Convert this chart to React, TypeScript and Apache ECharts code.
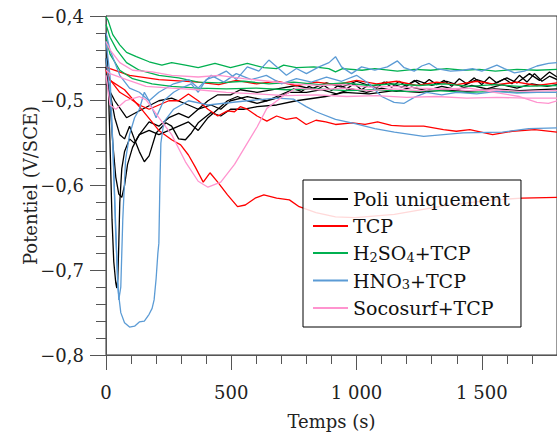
import React, { useEffect, useRef } from "react";
import * as echarts from "echarts";

const FONT = "DejaVu Serif";

const seriesNames = ["Poli uniquement", "TCP", "H2SO4+TCP", "HNO3+TCP", "Socosurf+TCP"];
const seriesColors = ["#000000", "#ff0000", "#00b050", "#5b9bd5", "#ff94cf"];

const yTicks = [-0.8, -0.7, -0.6, -0.5, -0.4];
const xTicks = [0, 500, 1000, 1500];

// Poli uniquement
const poli1 = [[0,-0.42],[8,-0.47],[16,-0.55],[24,-0.64],[31,-0.69],[39,-0.715],[43,-0.721],[47,-0.71],[51,-0.67],[55,-0.62],[63,-0.58],[74,-0.56],[94,-0.545],[113,-0.55],[133,-0.54],[172,-0.525],[211,-0.53],[251,-0.52],[290,-0.515],[329,-0.52],[368,-0.51],[419,-0.505],[458,-0.51],[497,-0.5],[564,-0.495],[642,-0.5],[720,-0.49],[750,-0.486],[780,-0.489],[810,-0.483],[840,-0.487],[870,-0.482],[900,-0.488],[930,-0.481],[960,-0.486],[990,-0.48],[1020,-0.487],[1050,-0.481],[1080,-0.485],[1110,-0.478],[1140,-0.484],[1170,-0.477],[1200,-0.483],[1230,-0.476],[1260,-0.482],[1290,-0.475],[1320,-0.481],[1350,-0.476],[1380,-0.483],[1410,-0.474],[1440,-0.48],[1470,-0.473],[1500,-0.481],[1530,-0.472],[1560,-0.479],[1590,-0.474],[1620,-0.48],[1650,-0.47],[1680,-0.478],[1710,-0.468],[1740,-0.477],[1770,-0.471],[1800,-0.475]];
const poli2 = [[0,-0.45],[16,-0.5],[27,-0.55],[39,-0.59],[51,-0.61],[63,-0.614],[74,-0.6],[86,-0.575],[106,-0.555],[133,-0.54],[172,-0.535],[211,-0.54],[251,-0.535],[290,-0.53],[329,-0.525],[368,-0.535],[407,-0.52],[446,-0.51],[485,-0.5],[525,-0.495],[564,-0.5],[603,-0.503],[642,-0.5],[681,-0.497],[732,-0.49],[800,-0.49],[860,-0.487],[920,-0.492],[980,-0.486],[1040,-0.49],[1100,-0.485],[1160,-0.489],[1220,-0.484],[1280,-0.488],[1340,-0.483],[1400,-0.487],[1460,-0.482],[1520,-0.486],[1580,-0.481],[1640,-0.485],[1700,-0.48],[1760,-0.483],[1800,-0.481]];
const poli3 = [[0,-0.46],[16,-0.49],[35,-0.52],[55,-0.54],[74,-0.545],[94,-0.53],[113,-0.545],[133,-0.56],[153,-0.572],[172,-0.565],[200,-0.538],[239,-0.526],[262,-0.53],[290,-0.545],[317,-0.546],[341,-0.538],[368,-0.526],[419,-0.514],[458,-0.518],[497,-0.51],[552,-0.51],[603,-0.507],[681,-0.505],[760,-0.5],[877,-0.495],[950,-0.49],[1050,-0.492],[1150,-0.488],[1250,-0.49],[1350,-0.487],[1450,-0.489],[1550,-0.486],[1650,-0.488],[1800,-0.486]];
const poli4 = [[0,-0.48],[35,-0.5],[82,-0.52],[113,-0.515],[145,-0.51],[211,-0.5],[262,-0.497],[329,-0.505],[368,-0.51],[407,-0.5],[446,-0.493],[497,-0.493],[536,-0.487],[603,-0.49],[700,-0.485],[760,-0.482],[820,-0.486],[880,-0.479],[940,-0.484],[1000,-0.477],[1060,-0.483],[1120,-0.478],[1180,-0.484],[1240,-0.476],[1300,-0.482],[1360,-0.477],[1420,-0.483],[1480,-0.475],[1540,-0.481],[1600,-0.473],[1640,-0.479],[1690,-0.468],[1730,-0.476],[1770,-0.466],[1800,-0.472]];

// TCP
const tcp1 = [[0,-0.464],[16,-0.476],[74,-0.487],[145,-0.511],[211,-0.535],[262,-0.546],[298,-0.552],[329,-0.564],[356,-0.578],[388,-0.596],[415,-0.585],[446,-0.596],[485,-0.611],[525,-0.625],[556,-0.623],[595,-0.615],[630,-0.611],[681,-0.615],[732,-0.617],[771,-0.625],[838,-0.632],[916,-0.637],[994,-0.638],[1151,-0.634],[1347,-0.624],[1543,-0.617],[1660,-0.615],[1800,-0.614]];
const tcp2 = [[0,-0.463],[16,-0.475],[55,-0.49],[94,-0.497],[133,-0.505],[172,-0.51],[211,-0.505],[251,-0.5],[290,-0.5],[329,-0.492],[368,-0.5],[407,-0.51],[446,-0.518],[485,-0.512],[513,-0.513],[536,-0.507],[564,-0.51],[603,-0.518],[642,-0.524],[681,-0.518],[720,-0.522],[760,-0.52],[799,-0.528],[838,-0.523],[877,-0.525],[916,-0.528],[983,-0.526],[1034,-0.528],[1084,-0.525],[1139,-0.529],[1190,-0.53],[1268,-0.53],[1347,-0.534],[1398,-0.536],[1452,-0.534],[1543,-0.54],[1621,-0.536],[1711,-0.534],[1800,-0.537]];
const tcp3 = [[0,-0.46],[16,-0.462],[94,-0.47],[211,-0.475],[368,-0.478],[450,-0.481],[520,-0.476],[600,-0.48],[680,-0.477],[760,-0.482],[840,-0.478],[920,-0.481],[1000,-0.476],[1080,-0.48],[1160,-0.477],[1240,-0.482],[1320,-0.478],[1400,-0.481],[1480,-0.477],[1560,-0.481],[1640,-0.478],[1720,-0.482],[1800,-0.479]];

// H2SO4+TCP
const h2so4a = [[0,-0.401],[8,-0.405],[27,-0.422],[55,-0.434],[82,-0.443],[121,-0.448],[172,-0.454],[223,-0.458],[262,-0.455],[317,-0.458],[368,-0.461],[435,-0.456],[497,-0.461],[564,-0.456],[630,-0.461],[681,-0.462],[709,-0.458],[760,-0.461],[830,-0.46],[889,-0.462],[916,-0.466],[944,-0.462],[1022,-0.464],[1073,-0.462],[1163,-0.465],[1230,-0.463],[1296,-0.464],[1360,-0.462],[1425,-0.464],[1490,-0.463],[1554,-0.465],[1640,-0.463],[1720,-0.464],[1800,-0.463]];
const h2so4b = [[0,-0.41],[16,-0.425],[43,-0.44],[82,-0.455],[133,-0.464],[211,-0.47],[290,-0.473],[368,-0.478],[450,-0.479],[550,-0.477],[650,-0.48],[750,-0.478],[850,-0.481],[950,-0.479],[1050,-0.482],[1150,-0.48],[1250,-0.482],[1350,-0.48],[1450,-0.483],[1550,-0.481],[1650,-0.483],[1800,-0.482]];
const h2so4c = [[0,-0.425],[16,-0.445],[55,-0.464],[106,-0.474],[184,-0.48],[262,-0.483],[368,-0.485],[480,-0.486],[600,-0.485],[720,-0.487],[840,-0.486],[960,-0.488],[1080,-0.487],[1200,-0.489],[1320,-0.488],[1440,-0.49],[1560,-0.489],[1680,-0.49],[1800,-0.49]];

// HNO3+TCP
const hno3a = [[0,-0.43],[16,-0.47],[27,-0.55],[39,-0.65],[47,-0.72],[59,-0.75],[74,-0.762],[94,-0.767],[114,-0.766],[133,-0.761],[153,-0.76],[172,-0.752],[184,-0.745],[192,-0.735],[200,-0.71],[207,-0.68],[211,-0.668],[215,-0.6],[219,-0.55],[231,-0.525],[270,-0.51],[329,-0.5],[407,-0.505],[564,-0.5],[681,-0.497],[748,-0.498],[799,-0.507],[838,-0.513],[916,-0.522],[994,-0.527],[1073,-0.533],[1151,-0.537],[1268,-0.542],[1425,-0.538],[1582,-0.537],[1687,-0.533],[1800,-0.532]];
const hno3b = [[0,-0.45],[16,-0.49],[27,-0.55],[39,-0.66],[51,-0.735],[59,-0.72],[67,-0.64],[78,-0.57],[94,-0.54],[114,-0.52],[133,-0.51],[153,-0.49],[172,-0.5],[200,-0.52],[230,-0.5],[270,-0.49],[300,-0.485],[340,-0.48],[368,-0.49],[400,-0.475],[446,-0.47],[480,-0.465],[520,-0.475],[564,-0.46],[610,-0.465],[650,-0.452],[681,-0.46],[720,-0.47],[760,-0.462],[800,-0.468],[850,-0.46],[890,-0.455],[916,-0.448],[940,-0.46],[980,-0.468],[1020,-0.46],[1073,-0.464],[1123,-0.46],[1163,-0.453],[1190,-0.461],[1230,-0.465],[1260,-0.459],[1290,-0.456],[1320,-0.462],[1375,-0.465],[1425,-0.464],[1463,-0.462],[1500,-0.465],[1560,-0.458],[1590,-0.462],[1630,-0.467],[1670,-0.465],[1720,-0.459],[1766,-0.456],[1800,-0.455]];
const hno3c = [[0,-0.42],[16,-0.44],[55,-0.47],[94,-0.485],[133,-0.49],[172,-0.5],[211,-0.49],[270,-0.48],[329,-0.475],[368,-0.485],[420,-0.47],[470,-0.478],[520,-0.468],[580,-0.475],[640,-0.47],[700,-0.48],[760,-0.474],[820,-0.478],[880,-0.472],[940,-0.477],[1000,-0.47],[1050,-0.48],[1100,-0.495],[1150,-0.502],[1190,-0.503],[1230,-0.496],[1280,-0.49],[1340,-0.493],[1400,-0.49],[1480,-0.492],[1560,-0.489],[1640,-0.491],[1720,-0.49],[1800,-0.49]];

// Socosurf+TCP
const soco1 = [[0,-0.47],[16,-0.505],[39,-0.51],[78,-0.5],[133,-0.495],[160,-0.499],[211,-0.52],[262,-0.54],[317,-0.572],[368,-0.595],[407,-0.602],[458,-0.596],[513,-0.575],[564,-0.55],[603,-0.531],[642,-0.509],[709,-0.494],[760,-0.485],[850,-0.487],[950,-0.485],[1050,-0.488],[1150,-0.486],[1250,-0.488],[1350,-0.486],[1450,-0.488],[1550,-0.487],[1650,-0.489],[1800,-0.488]];
const soco2 = [[0,-0.43],[16,-0.44],[55,-0.455],[106,-0.464],[184,-0.466],[262,-0.47],[368,-0.472],[450,-0.47],[550,-0.474],[650,-0.477],[750,-0.48],[850,-0.482],[950,-0.481],[1050,-0.484],[1150,-0.483],[1250,-0.485],[1350,-0.486],[1450,-0.485],[1550,-0.49],[1650,-0.495],[1720,-0.502],[1766,-0.503],[1800,-0.5]];
const soco3 = [[0,-0.464],[16,-0.468],[82,-0.475],[160,-0.483],[262,-0.485],[368,-0.487],[480,-0.49],[600,-0.492],[720,-0.494],[840,-0.493],[960,-0.495],[1080,-0.494],[1200,-0.496],[1320,-0.495],[1440,-0.497],[1560,-0.496],[1680,-0.497],[1800,-0.497]];

const groups = [
  [poli1, poli2, poli3, poli4],
  [tcp1, tcp2, tcp3],
  [h2so4a, h2so4b, h2so4c],
  [hno3a, hno3b, hno3c],
  [soco1, soco2, soco3],
];

const fmtY = (v: number) => {
  const s = Math.abs(v).toFixed(1).replace(".", ",");
  return v < 0 ? "\u2212" + s : s;
};
const fmtX = (v: number) => {
  if (v >= 1000) {
    const th = Math.floor(v / 1000);
    return th + " " + String(v % 1000).padStart(3, "0");
  }
  return String(v);
};

export default function App() {
  const ref = useRef<HTMLDivElement>(null);
  useEffect(() => {
    if (!ref.current) return;
    const chart = echarts.init(ref.current, undefined, { renderer: "svg" });
    const series: any[] = [];
    groups.forEach((g, gi) => {
      g.forEach((d) => {
        series.push({
          type: "line",
          name: seriesNames[gi],
          data: d,
          showSymbol: false,
          symbol: "none",
          silent: true,
          color: seriesColors[gi],
          lineStyle: { width: 1.3, color: seriesColors[gi] },
        });
      });
    });
    const axisText = { fontFamily: FONT, fontSize: 18, color: "#222" };
    chart.setOption({
      animation: false,
      backgroundColor: "#fff",
      grid: {
        left: 106,
        top: 16,
        right: -9,
        bottom: 83,
        show: true,
        borderColor: "#333",
        borderWidth: 1,
        backgroundColor: "transparent",
      },
      xAxis: {
        type: "value",
        min: 0,
        max: 1800,
        interval: 500,
        name: "Temps (s)",
        nameLocation: "middle",
        nameGap: 57,
        nameMoveOverlap: false,
        nameTextStyle: axisText,
        axisLine: { show: true, onZero: false, lineStyle: { color: "#555", width: 1 } },
        axisTick: { show: true, length: 15, lineStyle: { color: "#555" } },
        minorTick: { show: true, splitNumber: 5, length: 9, lineStyle: { color: "#555" } },
        splitLine: { show: false },
        axisLabel: { ...axisText, margin: 28, formatter: fmtX, showMaxLabel: false },
      },
      yAxis: {
        type: "value",
        min: -0.8,
        max: -0.4,
        interval: 0.1,
        name: "Potentiel (V/SCE)",
        nameLocation: "middle",
        nameGap: 67,
        nameMoveOverlap: false,
        nameTextStyle: axisText,
        axisLine: { show: true, onZero: false, lineStyle: { color: "#555", width: 1 } },
        axisTick: { show: true, length: 16, lineStyle: { color: "#555" } },
        minorTick: { show: true, splitNumber: 5, length: 10, lineStyle: { color: "#555" } },
        splitLine: { show: false },
        axisLabel: { ...axisText, margin: 22, formatter: fmtY },
      },
      legend: {
        show: true,
        orient: "vertical",
        left: 303,
        top: 180,
        padding: [9, 11, 9, 10],
        itemWidth: 35,
        itemHeight: 2,
        itemGap: 7,
        icon: "rect",
        backgroundColor: "rgba(255,255,255,0.85)",
        borderColor: "#000",
        borderWidth: 1,
        data: seriesNames,
        formatter: (name: string) => {
          if (name === "H2SO4+TCP") return "H{s|2}SO{s|4}+TCP";
          if (name === "HNO3+TCP") return "HNO{s|3}+TCP";
          return name;
        },
        textStyle: {
          fontFamily: FONT,
          fontSize: 19,
          color: "#111",
          lineHeight: 20,
          rich: {
            s: { fontFamily: FONT, fontSize: 13, color: "#111", padding: [8, 0, 0, 0] },
          },
        },
      },
      series,
    });
    return () => chart.dispose();
  }, []);
  return (
    <div
      ref={ref}
      style={{ position: "fixed", left: 0, top: 0, width: 557, height: 438 }}
    />
  );
}
